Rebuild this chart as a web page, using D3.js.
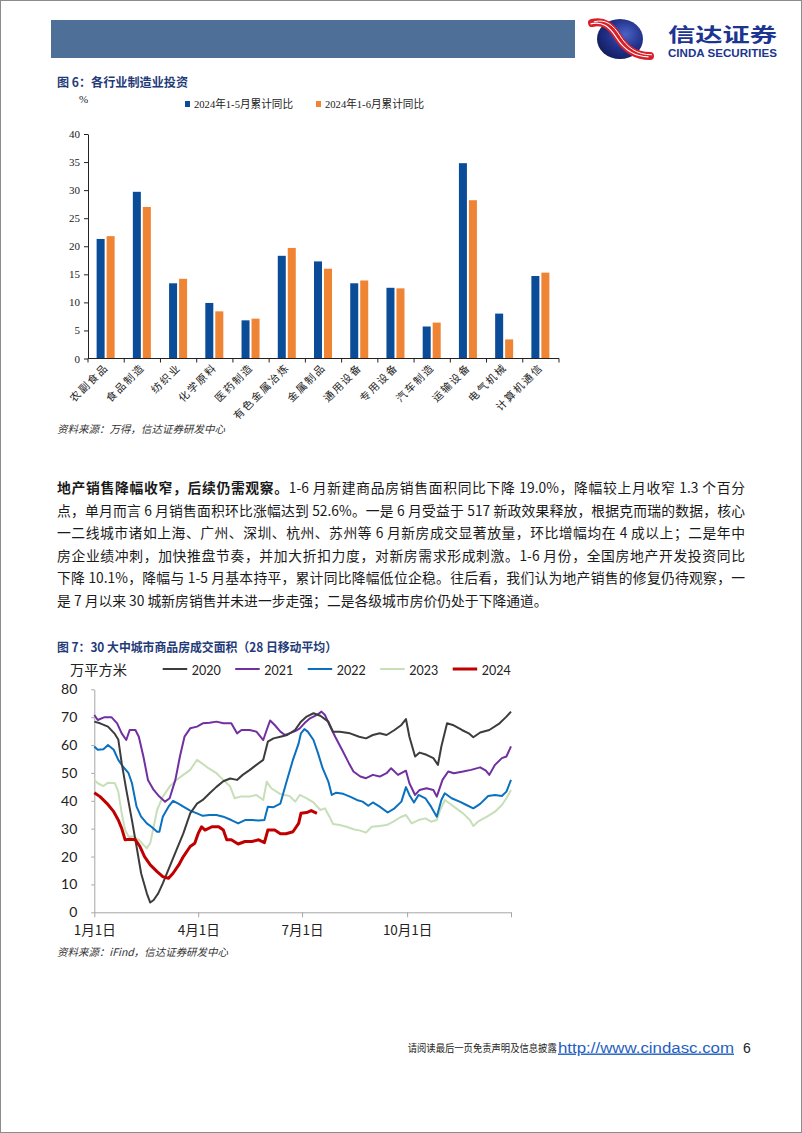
<!DOCTYPE html>
<html><head><meta charset="utf-8">
<script src="https://cdn.jsdelivr.net/npm/d3@7"></script>
<style>
body{margin:0;background:#fff;}
#page{position:relative;width:802px;height:1133px;overflow:hidden;background:#fff;}
#chart{position:absolute;left:0;top:0;}
#para{position:absolute;left:57px;top:476px;width:688px;font-family:"Noto Sans CJK SC";font-size:13.8px;line-height:22.6px;color:#1a1a1a;}
#para div{white-space:nowrap;text-align:justify;text-align-last:justify;}
#para div.last{text-align-last:left;}
#para b{font-weight:700;}
</style></head>
<body><div id="page"><svg id="chart" width="802" height="1133"></svg>
<div id="para"></div></div>
<script>
// ---------- data ----------
const categories = ["农副食品","食品制造","纺织业","化学原料","医药制造","有色金属冶炼","金属制品","通用设备","专用设备","汽车制造","运输设备","电气机械","计算机通信"];
const seriesNames = ["2024年1-5月累计同比","2024年1-6月累计同比"];
const janMay = [21.3,29.7,13.4,9.9,6.8,18.3,17.3,13.4,12.6,5.7,34.8,8.0,14.7];
const janJun = [21.8,27.0,14.2,8.4,7.1,19.7,16.0,13.9,12.5,6.4,28.2,3.4,15.3];
const barTicks = [0,5,10,15,20,25,30,35,40];

const years = ["2020","2021","2022","2023","2024"];
const dayTicks = [0,91,182,274,365];
const dayTickLabels = ["1月1日","4月1日","7月1日","10月1日",""];
const areaTicks = [0,10,20,30,40,50,60,70,80];
// [day of year, 万平方米]
const s2020 = [[0,68.4],[5,67.8],[12,66.6],[18,64],[21,62],[24,53.5],[28,44],[33,33],[37,23.6],[41,14],[46,6.8],[49,3.5],[52,4.4],[56,6.8],[60,10.4],[66,16.4],[72,22.4],[78,28.3],[84,35.5],[90,39],[95,40.3],[101,42.7],[107,45],[113,47],[119,48],[125,47.5],[130,49.3],[136,51],[142,52.9],[148,54.7],[152,61.2],[157,62.4],[163,63],[169,63.6],[176,65.5],[181,68.4],[186,70.2],[192,71.4],[198,70.5],[205,68.4],[209,64.8],[215,64.8],[224,64.2],[232,63],[238,62.4],[244,63.6],[250,64.2],[256,63.6],[263,65.4],[269,67.2],[273,69.3],[276,63],[281,55.9],[285,57.3],[291,56.5],[297,55.3],[301,52.9],[304,59.5],[309,67.8],[314,67.2],[322,65.4],[328,64.2],[332,62.8],[338,64.5],[346,65.4],[355,67.8],[361,70.2],[365,72]];
const s2021 = [[0,70.8],[3,69],[9,70],[15,70],[20,67.8],[24,64.2],[28,61.8],[31,65.4],[36,65.4],[39,63],[43,55.9],[47,47.5],[52,43.9],[57,41.5],[62,39.7],[66,40.9],[71,47.5],[75,55.9],[79,63],[84,66],[90,66.6],[95,67.8],[101,68],[107,68.4],[113,67.8],[120,67.8],[125,64.2],[129,65.4],[136,65.4],[142,64.8],[148,61.8],[151,65.4],[154,68.8],[158,67.2],[163,64.8],[167,63.6],[171,64.2],[176,65],[180,66],[184,67.8],[189,69.6],[195,70.8],[199,72],[202,70.8],[206,67.2],[211,63],[217,58.3],[223,53.5],[227,50.5],[233,48.7],[238,48.1],[244,49.3],[250,48.7],[256,49.9],[260,51.7],[266,49.3],[273,50.8],[276,46.3],[281,42.1],[285,43.9],[291,44.5],[297,43.9],[300,41.5],[305,47.5],[310,50.5],[315,49.9],[323,50.5],[330,51.1],[338,52],[343,50.8],[346,49.3],[351,52.9],[357,55.3],[361,55.9],[365,59.5]];
const s2022 = [[0,59.5],[3,58.3],[8,58.5],[12,60],[17,58.3],[21,54.7],[25,52.3],[30,49.9],[33,46.3],[37,37.9],[41,34.3],[46,31.9],[50,30.7],[55,28.9],[57,28.9],[60,34.3],[65,37.9],[69,40],[74,38.9],[78,37.9],[84,36.5],[90,35.5],[95,34.6],[101,34.9],[107,34.9],[113,34.3],[120,33.1],[126,31.9],[132,33.1],[138,33.1],[144,32.9],[149,33.1],[152,37.9],[157,37.7],[163,39],[168,46.3],[174,54.7],[179,60.6],[181,64.2],[184,65.7],[187,64.8],[192,61.8],[196,57],[200,51.7],[205,46.9],[208,42.1],[212,42.9],[218,42.5],[224,41.5],[230,40.3],[235,39.7],[240,38.2],[244,39.4],[250,37.9],[257,35.8],[263,37.3],[269,39.7],[273,44.9],[276,42.1],[280,39.4],[284,42.1],[290,40.9],[295,37.9],[300,34.3],[304,40.3],[307,42.7],[313,40.9],[320,39.7],[326,38.5],[332,37.3],[338,38.9],[345,41.7],[351,42.1],[357,41.7],[361,43.3],[365,47.5]];
const s2023 = [[0,47.5],[3,46.3],[8,45.3],[12,46.5],[18,46.3],[21,43.3],[24,35.5],[27,29.5],[30,27.2],[34,27.2],[39,26],[43,24.2],[46,23],[49,24.8],[52,30.7],[55,36.7],[60,41.5],[66,45.1],[72,47.5],[78,49.3],[84,51.1],[90,54.7],[94,53.5],[100,51.7],[107,49.9],[113,47.5],[119,45.1],[123,40.9],[128,41.5],[136,41.5],[142,42.1],[148,40.3],[151,46.9],[155,44.5],[163,42.4],[171,41.7],[176,39.7],[180,42.1],[186,40.9],[192,39.4],[198,36.7],[202,37.3],[206,34.3],[209,31.7],[215,31.3],[221,30.7],[227,29.8],[233,29.3],[238,28.6],[243,30.7],[250,31],[256,31.3],[262,32.5],[268,34.1],[273,34.9],[278,31.9],[284,33.1],[290,33.7],[295,32.5],[300,33.1],[303,36.7],[307,40.3],[311,39.1],[317,37.3],[323,35.5],[329,33.1],[332,31],[336,32.5],[344,34.3],[351,36.1],[357,38.5],[361,40.9],[365,43.9]];
const s2024 = [[0,42.9],[5,41.5],[11,39.1],[17,36.1],[21,33.1],[24,30.1],[27,26],[31,26.2],[36,26],[40,23.6],[44,20],[49,17],[55,14.6],[60,12.8],[65,12.2],[69,14],[74,17],[78,20],[84,23.6],[88,24.8],[91,28.3],[94,30.7],[97,29.5],[103,30.7],[109,30.7],[113,29.5],[116,26],[120,26],[126,24.5],[132,25.4],[138,25.4],[144,26],[149,25],[152,29.5],[158,29.5],[163,28.2],[168,28.2],[174,28.9],[179,31.9],[181,35.5],[186,35.8],[190,36.5],[195,35.5]];

const paraLines = [
  ["地产销售降幅收窄，后续仍需观察。","1-6 月新建商品房销售面积同比下降 19.0%，降幅较上月收窄 1.3 个百分"],
  ["","点，单月而言 6 月销售面积环比涨幅达到 52.6%。一是 6 月受益于 517 新政效果释放，根据克而瑞的数据，核心"],
  ["","一二线城市诸如上海、广州、深圳、杭州、苏州等 6 月新房成交显著放量，环比增幅均在 4 成以上；二是年中"],
  ["","房企业绩冲刺，加快推盘节奏，并加大折扣力度，对新房需求形成刺激。1-6 月份，全国房地产开发投资同比"],
  ["","下降 10.1%，降幅与 1-5 月基本持平，累计同比降幅低位企稳。往后看，我们认为地产销售的修复仍待观察，一"],
  ["","是 7 月以来 30 城新房销售并未进一步走强；二是各级城市房价仍处于下降通道。"]
];

// ---------- page ----------
const svg = d3.select("#chart");
const navy = "#1f3c78";
svg.append("rect").attr("x",0.5).attr("y",0.5).attr("width",801).attr("height",1132)
  .attr("fill","none").attr("stroke","#8c8c8c");

// header bar
svg.append("rect").attr("x",51).attr("y",20).attr("width",524).attr("height",38).attr("fill","#4e6f98");

// logo
const defs = svg.append("defs");
const rg = defs.append("radialGradient").attr("id","globe").attr("cx","62%").attr("cy","38%").attr("r","70%");
rg.append("stop").attr("offset","0%").attr("stop-color","#4a62c4");
rg.append("stop").attr("offset","55%").attr("stop-color","#22318a");
rg.append("stop").attr("offset","100%").attr("stop-color","#121c5a");
svg.append("ellipse").attr("cx",620).attr("cy",39).attr("rx",23).attr("ry",20).attr("fill","url(#globe)");
const sw = "M592,23 C604,20 611,26 618,37 C625,48 634,56 650,56";
svg.append("path").attr("d",sw).attr("fill","none").attr("stroke","#d8202b").attr("stroke-width",8).attr("stroke-linecap","round");
svg.append("path").attr("d",sw).attr("fill","none").attr("stroke","#fff").attr("stroke-width",1.2).attr("transform","translate(-1.5,0.8)");
svg.append("path").attr("d",sw).attr("fill","none").attr("stroke","#fff").attr("stroke-width",1).attr("transform","translate(2,-1.2)");
svg.append("text").attr("x",668).attr("y",42).attr("font-family","Noto Sans CJK SC").attr("font-weight",700)
  .attr("font-size",19).attr("fill","#1b3590").attr("textLength",109).attr("lengthAdjust","spacingAndGlyphs").text("信达证券");
svg.append("text").attr("x",668).attr("y",57).attr("font-family","Liberation Sans").attr("font-weight",700)
  .attr("font-size",10).attr("fill","#1b3590").attr("textLength",109).attr("lengthAdjust","spacingAndGlyphs").text("CINDA SECURITIES");

// ---------- chart 1 ----------
svg.append("text").attr("x",57).attr("y",87).attr("font-family","Noto Sans CJK SC").attr("font-weight",700)
  .attr("font-size",12.5).attr("fill",navy).attr("textLength",131).attr("lengthAdjust","spacingAndGlyphs").text("图 6：各行业制造业投资");
svg.append("text").attr("x",79).attr("y",103).attr("font-family","Liberation Serif").attr("font-size",11).attr("fill","#222").text("%");

const barColors = ["#0a4c97","#ee8434"];
const leg1X = [185, 316];
seriesNames.forEach((n,i)=>{
  svg.append("rect").attr("x",leg1X[i]).attr("y",101).attr("width",5).attr("height",6).attr("fill",barColors[i]);
  svg.append("text").attr("x",leg1X[i]+9).attr("y",108).attr("font-family","Liberation Serif, Noto Sans CJK SC")
    .attr("font-size",11).attr("fill","#222").attr("textLength",99).attr("lengthAdjust","spacingAndGlyphs").text(n);
});

const x0 = d3.scaleBand().domain(categories).range([88,559]);
const yb = d3.scaleLinear().domain([0,40]).range([358.5,134]);
const bw = x0.bandwidth();
const x1 = d3.scaleBand().domain([0,1]).range([bw/2-9.5, bw/2+8.5]).paddingInner(0.2);

const g1 = svg.append("g");
[janMay, janJun].forEach((vals,si)=>{
  g1.selectAll(null).data(vals).enter().append("rect")
    .attr("x",(d,i)=>x0(categories[i])+x1(si)).attr("width",x1.bandwidth())
    .attr("y",d=>yb(d)).attr("height",d=>yb(0)-yb(d)).attr("fill",barColors[si]);
});
const yAx1 = svg.append("g").attr("transform","translate(88,0)")
  .call(d3.axisLeft(yb).tickValues(barTicks).tickSize(4).tickSizeOuter(0).tickPadding(4));
yAx1.select(".domain").attr("stroke","#222");
yAx1.selectAll(".tick line").attr("stroke","#222");
yAx1.selectAll("text").attr("font-family","Liberation Serif").attr("font-size",11).attr("fill","#222");
// x axis
svg.append("line").attr("x1",88).attr("x2",559).attr("y1",358.5).attr("y2",358.5).attr("stroke","#222");
const bounds = categories.map(c=>x0(c)).concat([x0.range()[1]]);
svg.selectAll(null).data(bounds).enter().append("line")
  .attr("x1",d=>d).attr("x2",d=>d).attr("y1",358.5).attr("y2",362.5).attr("stroke","#222");
svg.selectAll(null).data(categories).enter().append("text")
  .attr("transform",d=>`translate(${x0(d)+bw/2+3},368) rotate(-45)`)
  .attr("text-anchor","end").attr("font-family","Noto Sans CJK SC").attr("font-size",10.5)
  .attr("letter-spacing","1.8px").attr("fill","#222").text(d=>d);

svg.append("text").attr("x",57).attr("y",433).attr("font-family","Noto Sans CJK SC").attr("font-style","italic")
  .attr("font-size",10.5).attr("fill","#333").attr("textLength",168).attr("lengthAdjust","spacingAndGlyphs")
  .text("资料来源：万得，信达证券研发中心");

// ---------- paragraph ----------
const para = d3.select("#para");
paraLines.forEach((l,i)=>{
  const dv = para.append("div").attr("class", i===paraLines.length-1 ? "last" : null);
  if (l[0]) dv.append("b").text(l[0]);
  dv.append("span").text(l[1]);
});

// ---------- chart 2 ----------
svg.append("text").attr("x",57).attr("y",652).attr("font-family","Noto Sans CJK SC").attr("font-weight",700)
  .attr("font-size",12.5).attr("fill",navy).attr("textLength",280).attr("lengthAdjust","spacingAndGlyphs")
  .text("图 7：30 大中城市商品房成交面积（28 日移动平均）");
svg.append("text").attr("x",70).attr("y",675).attr("font-family","Noto Sans CJK SC").attr("font-size",14)
  .attr("fill","#222").attr("textLength",57).attr("lengthAdjust","spacingAndGlyphs").text("万平方米");

const lineColors = ["#3c3c3c","#7030a0","#0a70c0","#c6dfb8","#c00000"];
const lineWidths = [2,2,2,2,3];
const seriesData = [s2020,s2021,s2022,s2023,s2024];
years.forEach((yr,i)=>{
  const lx = 162.7 + i*72.5;
  svg.append("line").attr("x1",lx).attr("x2",lx+24.5).attr("y1",669).attr("y2",669)
    .attr("stroke",lineColors[i]).attr("stroke-width",lineWidths[i]);
  svg.append("text").attr("x",lx+29).attr("y",674.5).attr("font-family","Lato, Liberation Sans").attr("font-size",14)
    .attr("fill","#222").attr("textLength",29).attr("lengthAdjust","spacingAndGlyphs").text(yr);
});

const xd = d3.scaleLinear().domain([0,365]).range([94.3,511]);
const ya = d3.scaleLinear().domain([0,80]).range([912.3,689.3]);

const yAx2 = svg.append("g").attr("transform","translate(94.3,0)")
  .call(d3.axisLeft(ya).tickValues(areaTicks).tickSize(3).tickSizeOuter(0).tickPadding(14));
yAx2.select(".domain").attr("stroke","#a6a6a6");
yAx2.selectAll(".tick line").attr("stroke","#a6a6a6");
yAx2.selectAll("text").attr("font-family","Lato, Liberation Sans").attr("font-size",14).attr("fill","#222");

const xAx2 = svg.append("g").attr("transform","translate(0,912.3)")
  .call(d3.axisBottom(xd).tickValues(dayTicks).tickFormat((d,i)=>dayTickLabels[i]).tickSize(5).tickSizeOuter(0).tickPadding(8));
xAx2.select(".domain").attr("stroke","#a6a6a6");
xAx2.selectAll(".tick line").attr("stroke","#a6a6a6");
xAx2.selectAll("text").attr("font-family","Noto Sans CJK SC").attr("font-size",13.5).attr("fill","#222");

const lineGen = d3.line().x(d=>xd(d[0])).y(d=>ya(d[1]));
const drawOrder = [3,2,1,0,4];
drawOrder.forEach(i=>{
  svg.append("path").datum(seriesData[i]).attr("d",lineGen).attr("fill","none")
    .attr("stroke",lineColors[i]).attr("stroke-width",lineWidths[i]).attr("stroke-linejoin","round");
});

svg.append("text").attr("x",57).attr("y",956).attr("font-family","Noto Sans CJK SC").attr("font-style","italic")
  .attr("font-size",10.5).attr("fill","#333").attr("textLength",171).attr("lengthAdjust","spacingAndGlyphs")
  .text("资料来源：iFind，信达证券研发中心");

// ---------- footer ----------
svg.append("text").attr("x",407.7).attr("y",1052).attr("font-family","Noto Sans CJK SC").attr("font-size",10)
  .attr("fill","#222").attr("textLength",149).attr("lengthAdjust","spacingAndGlyphs").text("请阅读最后一页免责声明及信息披露");
svg.append("text").attr("x",558).attr("y",1052.5).attr("font-family","Liberation Sans").attr("font-size",14)
  .attr("fill","#1f5fbf").attr("text-decoration","underline").attr("textLength",176).attr("lengthAdjust","spacingAndGlyphs")
  .text("http://www.cindasc.com");
svg.append("text").attr("x",743).attr("y",1052.5).attr("font-family","Liberation Sans").attr("font-size",14)
  .attr("fill","#222").text("6");
</script></body></html>
